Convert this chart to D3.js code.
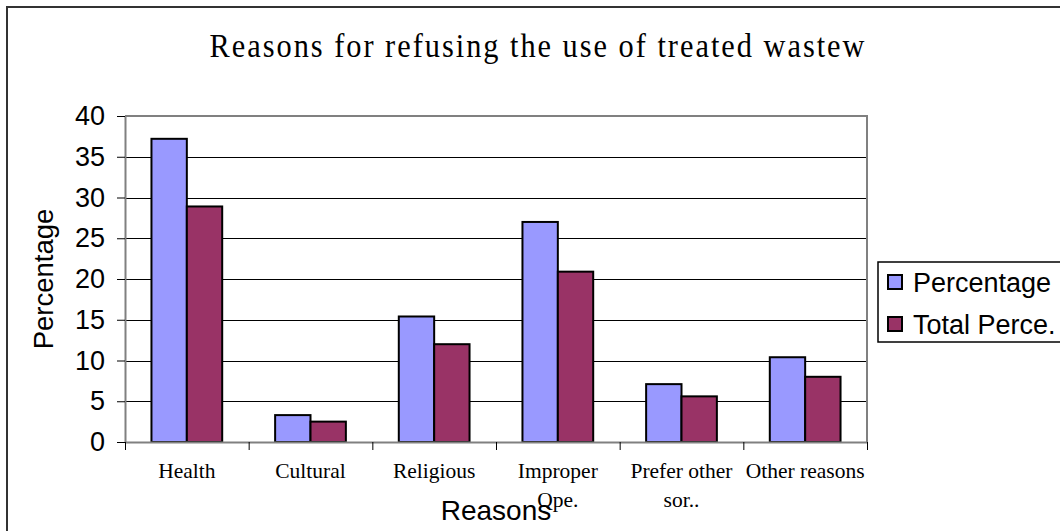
<!DOCTYPE html>
<html>
<head>
<meta charset="utf-8">
<script src="https://cdn.jsdelivr.net/npm/d3@7/dist/d3.min.js"></script>
<style>
  html, body { margin: 0; padding: 0; background: #fff; }
  svg { display: block; }
</style>
</head>
<body>
<svg id="chart" width="1060" height="531"></svg>
<script>
// Survey results: reasons respondents gave for refusing treated wastewater
const categories = ["Health", "Cultural", "Religious", "Improper Qpe.", "Prefer other sor..", "Other reasons"];
const categoryLines = [["Health"], ["Cultural"], ["Religious"], ["Improper", "Qpe."], ["Prefer other", "sor.."], ["Other reasons"]];
const seriesNames = ["Percentage", "Total Perce."];
const percentage = [37.2, 3.3, 15.4, 27.0, 7.1, 10.4];
const totalPercentage = [28.9, 2.5, 12.0, 20.9, 5.6, 8.0];
const yTicks = [0, 5, 10, 15, 20, 25, 30, 35, 40];
const colors = ["#9999FF", "#993366"];

const seriesValues = [percentage, totalPercentage];

const svg = d3.select("#chart");
const plot = { left: 125, right: 867, top: 116, bottom: 442 };

// outer chart frame
svg.append("rect")
  .attr("x", 7).attr("y", 7)
  .attr("width", 1100).attr("height", 600)
  .attr("fill", "none").attr("stroke", "#333").attr("stroke-width", 2);

// title: slightly narrow glyphs, spaced across the top
const titleScale = 0.92;
svg.append("text")
  .attr("transform", `translate(537,57) scale(${titleScale},1)`)
  .attr("x", 0).attr("y", 0)
  .attr("text-anchor", "middle")
  .attr("font-family", "'Liberation Serif', 'Times New Roman', serif")
  .attr("font-size", 33)
  .attr("textLength", 655 / titleScale)
  .attr("lengthAdjust", "spacing")
  .attr("fill", "#000")
  .text("Reasons for refusing the use of treated wastew");

const x0 = d3.scaleBand().domain(categories).range([plot.left, plot.right]).padding(0);
const bw = x0.bandwidth();
const x1 = d3.scaleBand().domain(seriesNames).range([bw * 0.214, bw * 0.786]).padding(0);
const y = d3.scaleLinear().domain([0, 40]).range([plot.bottom, plot.top]);

// horizontal gridlines
svg.append("g")
  .selectAll("line")
  .data(yTicks.filter(t => t > 0 && t < 40))
  .join("line")
  .attr("x1", plot.left).attr("x2", plot.right)
  .attr("y1", d => Math.round(y(d)) + 0.5).attr("y2", d => Math.round(y(d)) + 0.5)
  .attr("stroke", "#000").attr("stroke-width", 1);

// plot area frame (top and right)
svg.append("path")
  .attr("d", `M${plot.left},${plot.top}H${plot.right}V${plot.bottom}`)
  .attr("fill", "none").attr("stroke", "#808080").attr("stroke-width", 2);

// bars
const groups = svg.append("g")
  .selectAll("g")
  .data(categories)
  .join("g")
  .attr("transform", d => `translate(${x0(d)},0)`);

groups.selectAll("rect")
  .data((d, i) => seriesNames.map((s, j) => ({ s, j, v: seriesValues[j][i] })))
  .join("rect")
  .attr("x", d => x1(d.s))
  .attr("y", d => y(d.v))
  .attr("width", x1.bandwidth())
  .attr("height", d => y(0) - y(d.v))
  .attr("fill", d => colors[d.j])
  .attr("stroke", "#000")
  .attr("stroke-width", 2);

// y axis
const yAxis = svg.append("g")
  .attr("transform", `translate(${plot.left},0)`)
  .call(d3.axisLeft(y).tickValues(yTicks).tickSize(8).tickPadding(12).tickSizeOuter(0));
yAxis.select(".domain").attr("stroke", "#808080").attr("stroke-width", 2);
yAxis.selectAll(".tick line").attr("stroke", "#000");
yAxis.selectAll(".tick text")
  .attr("font-family", "'Liberation Sans', Arial, sans-serif")
  .attr("font-size", 27)
  .attr("fill", "#000");

// x axis: boundary ticks between categories
const xb = d3.scaleLinear().domain([0, categories.length]).range([plot.left, plot.right]);
const xAxis = svg.append("g")
  .attr("transform", `translate(0,${plot.bottom})`)
  .call(d3.axisBottom(xb).ticks(categories.length).tickSize(8).tickFormat("").tickSizeOuter(0));
xAxis.select(".domain").attr("stroke", "#808080").attr("stroke-width", 2);
xAxis.selectAll(".tick line").attr("stroke", "#000");

// category labels
const catLabels = svg.append("g")
  .selectAll("text")
  .data(categories)
  .join("text")
  .attr("x", d => x0(d) + bw / 2)
  .attr("y", 478)
  .attr("text-anchor", "middle")
  .attr("font-family", "'Liberation Serif', 'Times New Roman', serif")
  .attr("font-size", 21.5)
  .attr("fill", "#000");
catLabels.selectAll("tspan")
  .data((d, i) => categoryLines[i])
  .join("tspan")
  .attr("x", function () { return d3.select(this.parentNode).attr("x"); })
  .attr("dy", (d, k) => k === 0 ? 0 : 28.5)
  .text(d => d);

// axis titles
svg.append("text")
  .attr("x", (plot.left + plot.right) / 2).attr("y", 520)
  .attr("text-anchor", "middle")
  .attr("font-family", "'Liberation Sans', Arial, sans-serif")
  .attr("font-size", 28)
  .attr("fill", "#000")
  .text("Reasons");

svg.append("text")
  .attr("transform", `translate(53,${(plot.top + plot.bottom) / 2}) rotate(-90)`)
  .attr("text-anchor", "middle")
  .attr("font-family", "'Liberation Sans', Arial, sans-serif")
  .attr("font-size", 27.5)
  .attr("fill", "#000")
  .text("Percentage");

// legend
const legend = svg.append("g").attr("transform", "translate(878,262)");
legend.append("rect")
  .attr("x", 0).attr("y", 0).attr("width", 300).attr("height", 80)
  .attr("fill", "#fff").attr("stroke", "#000").attr("stroke-width", 1.5);
const items = legend.selectAll("g.item")
  .data(seriesNames)
  .join("g")
  .attr("class", "item")
  .attr("transform", (d, i) => `translate(0,${i * 42})`);
items.append("rect")
  .attr("x", 10).attr("y", 13).attr("width", 14).attr("height", 14)
  .attr("fill", (d, i) => colors[i])
  .attr("stroke", "#000").attr("stroke-width", 2);
items.append("text")
  .attr("x", 35).attr("y", 30)
  .attr("font-family", "'Liberation Sans', Arial, sans-serif")
  .attr("font-size", 27)
  .attr("fill", "#000")
  .text(d => d);
</script>
</body>
</html>
